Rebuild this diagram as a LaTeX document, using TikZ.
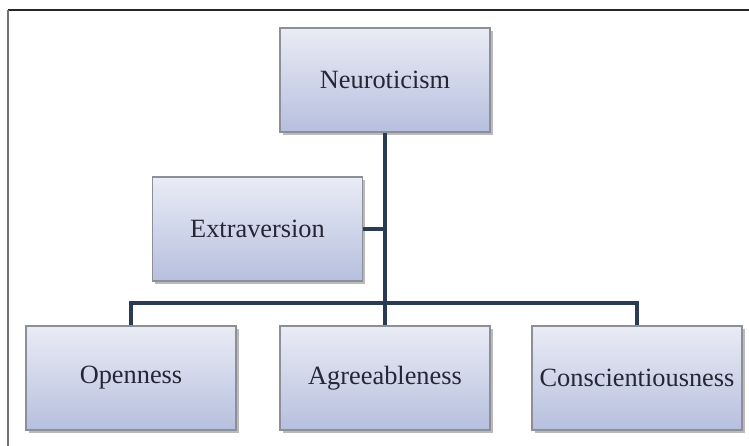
\documentclass[tikz,border=0pt]{standalone}
\usepackage{fontspec}
\setmainfont{Liberation Serif}
\usepackage{tikz}
\usepackage{xcolor}
\usetikzlibrary{shadows}

\definecolor{linknavy}{RGB}{42,60,84}
\definecolor{boxtop}{RGB}{234,236,245}
\definecolor{boxbottom}{RGB}{182,191,222}
\definecolor{boxedge}{RGB}{140,142,152}
\definecolor{textdark}{RGB}{38,38,52}

\begin{document}
\begin{tikzpicture}[
  trait/.style={rectangle,draw=boxedge,line width=.6pt,top color=boxtop,bottom color=boxbottom,
    minimum width=4.2cm,minimum height=2.08cm,inner sep=0pt,text=textdark,
    font=\fontsize{15}{18}\selectfont,
    drop shadow={shadow xshift=.05cm,shadow yshift=-.06cm,opacity=.45,fill=black!60}},
  link/.style={draw=linknavy,line width=.08cm,line join=miter}]
  \useasboundingbox (0,0) rectangle (14.98,8.92);
  % frame, cut off at right and bottom
  \draw[black!85,line width=.8pt] (0.16,8.72) -- (14.98,8.72);
  \draw[black!55,line width=.8pt] (0.16,8.72) -- (0.16,0);
  \node[trait] (neu) at ( 7.70,7.32) {Neuroticism};
  \node[trait] (ext) at ( 5.15,4.34) {Extraversion};
  \node[trait] (ope) at ( 2.62,1.36) {Openness};
  \node[trait] (agr) at ( 7.70,1.36) {Agreeableness};
  \node[trait] (con) at (12.74,1.36) {Conscientiousness};
  \coordinate (bus) at (7.70,2.86);
  % trunk and side branch
  \draw[link] (neu.south) -- (agr.north);
  \draw[link] (ext.east) -- (ext.east -| neu.south);
  % bottom bus
  \draw[link] (ope.north) |- (bus) -| (con.north);
\end{tikzpicture}
\end{document}
